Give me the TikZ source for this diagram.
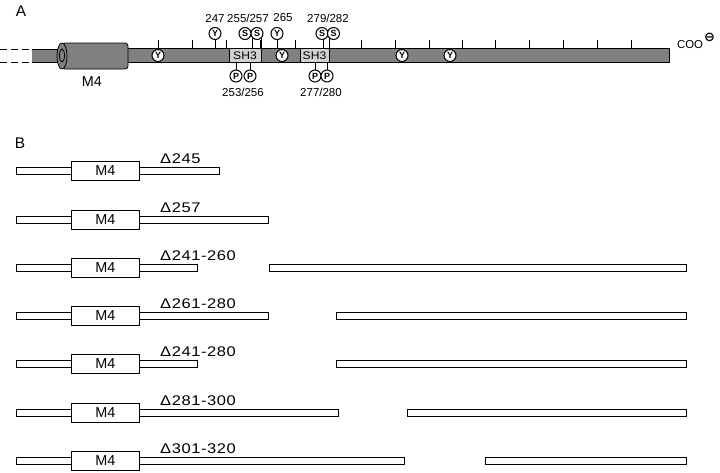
\documentclass[tikz,border=0pt]{standalone}
\usepackage{fontspec}
\setmainfont{Liberation Sans}
\newfontfamily\symfont{DejaVu Sans}
\begin{document}
\begin{tikzpicture}[x=1pt,y=-1pt,
  bar/.style={draw, line width=0.8pt, fill=black!50},
  shbox/.style={draw, line width=0.6pt, fill=black!18, inner sep=0pt, font=\fontsize{11}{11}\selectfont\addfontfeatures{FakeStretch=1.1}},
  res/.style={circle, draw, line width=1pt, fill=white, minimum size=12pt, inner sep=0pt, font=\fontsize{9}{9}\selectfont\bfseries},
  num/.style={font=\fontsize{11.5}{12}\selectfont, inner sep=0pt},
  tickline/.style={line width=0.6pt},
  stem/.style={line width=0.6pt},
  thinbar/.style={draw, line width=0.7pt, fill=white},
  mbox/.style={draw, line width=0.7pt, fill=white, minimum width=68pt, minimum height=19pt, inner sep=0pt, font=\fontsize{14.4}{14.4}\selectfont},
  lab/.style={font=\fontsize{14}{14}\selectfont\addfontfeatures{FakeStretch=1.18,LetterSpace=4}, anchor=west, inner sep=0pt},
  panel/.style={font=\fontsize{15.4}{15.4}\selectfont, inner sep=0pt}
]
\useasboundingbox (0,0) rectangle (720,472);

% ---------------- Panel A ----------------
\node[panel] (A) at (21,11) {A};

% dashed N-terminal lines
\coordinate (d1s) at (0,49); \coordinate (d1e) at (32,49);
\coordinate (d2s) at (0,62); \coordinate (d2e) at (32,62);
\draw[dash pattern=on 7pt off 4pt, line width=0.7pt] (d1s) -- (d1e);
\draw[dash pattern=on 7pt off 4pt, line width=0.7pt] (d2s) -- (d2e);

% thin rod left of M4
\fill[black!50] (32,49) rectangle (62,62);
\draw[line width=0.8pt] (32,49) -- (62,49) (32,62) -- (62,62);

% main bar
\draw[bar] (126,48.5) rectangle (669,62.5);

% M4 cylinder
\draw[bar, rounded corners=3pt] (62,43) rectangle (128,69);
\draw[bar] (62,56) ellipse (5 and 13);
\draw[bar] (62,55.5) ellipse (2.5 and 6.5);
\node[font=\fontsize{14.4}{14.4}\selectfont, inner sep=0pt] (m4a) at (92,82) {M4};

% ticks
\foreach \t [count=\k] in {158,192,226,260,295,361,395,429,462,495,529,563,597,631}{
  \coordinate (tk\k) at (\t,40);
  \draw[tickline] (tk\k) -- (\t,48.5);
}

% SH3 domains
\node[shbox, minimum width=32pt, minimum height=14pt] (sh1) at (245,55.5) {SH3};
\node[shbox, minimum width=29pt, minimum height=14pt] (sh2) at (314.5,55.5) {SH3};

% stems (drawn before circles)
\foreach \n/\x in {ya/215,yb/277,sa/252,sb/261,sc/323,sd/329}{
  \coordinate (\n top) at (\x,37);
  \coordinate (\n bot) at (\x,48.5);
  \draw[stem] (\n top) -- (\n bot);
}
\draw[stem] (261,48.5) -- (261,62.5);
\foreach \n/\x in {pa/236,pb/250,pc/315,pd/327}{
  \coordinate (\n top) at (\x,62.5);
  \coordinate (\n bot) at (\x,72);
  \draw[stem] (\n top) -- (\n bot);
}

% residues on the bar
\node[res] (yon1) at (158,55.5) {Y};
\node[res] (yon2) at (282,55.5) {Y};
\node[res] (yon3) at (402,55.5) {Y};
\node[res] (yon4) at (450,55.5) {Y};

% residues above
\node[res] (y247) at (215,33.5) {Y};
\node[res] (s255) at (245,33.5) {S};
\node[res] (s257) at (257,33.5) {S};
\node[res] (y265) at (277,33.5) {Y};
\node[res] (s279) at (322,33.5) {S};
\node[res] (s282) at (333.5,33.5) {S};

% residues below
\node[res] (p253) at (236,76) {P};
\node[res] (p256) at (250,76) {P};
\node[res] (p277) at (315,76) {P};
\node[res] (p280) at (327,76) {P};

% numbers
\node[num] (n247) at (215,18) {247};
\node[num] (n255) at (248,18) {255/257};
\node[num] (n265) at (283,18) {265};
\node[num] (n279) at (328,18) {279/282};
\node[num] (n253) at (243,92) {253/256};
\node[num] (n277) at (321,92) {277/280};

% C-terminus
\node[font=\fontsize{11.4}{11.4}\selectfont, inner sep=0pt] (coo) at (690,45) {COO};
\node[font=\fontsize{13}{13}\selectfont\symfont\bfseries, inner sep=0pt] (neg) at (709.5,37) {⊖};

% ---------------- Panel B ----------------
\node[panel] (B) at (20,143) {B};

\foreach \y/\e/\s/\txt [count=\i] in {
   171/219/0/{Δ245},
   220/268/0/{Δ257},
   268/197/269/{Δ241-260},
   316/268/336/{Δ261-280},
   364/197/336/{Δ241-280},
   413/338/407/{Δ281-300},
   461/404/485/{Δ301-320}}{
  \coordinate (ls\i) at (16,\y);
  \draw[thinbar] (16,\y-3.2) rectangle (\e,\y+3.2);
  \node[mbox] (mb\i) at (105.5,\y) {M4};
  \node[lab] (lb\i) at (160,\y-12.5) {\txt};
  \ifnum\s>0
    \draw[thinbar] (\s,\y-3.2) rectangle (686,\y+3.2);
  \fi
}
\end{tikzpicture}
\end{document}
